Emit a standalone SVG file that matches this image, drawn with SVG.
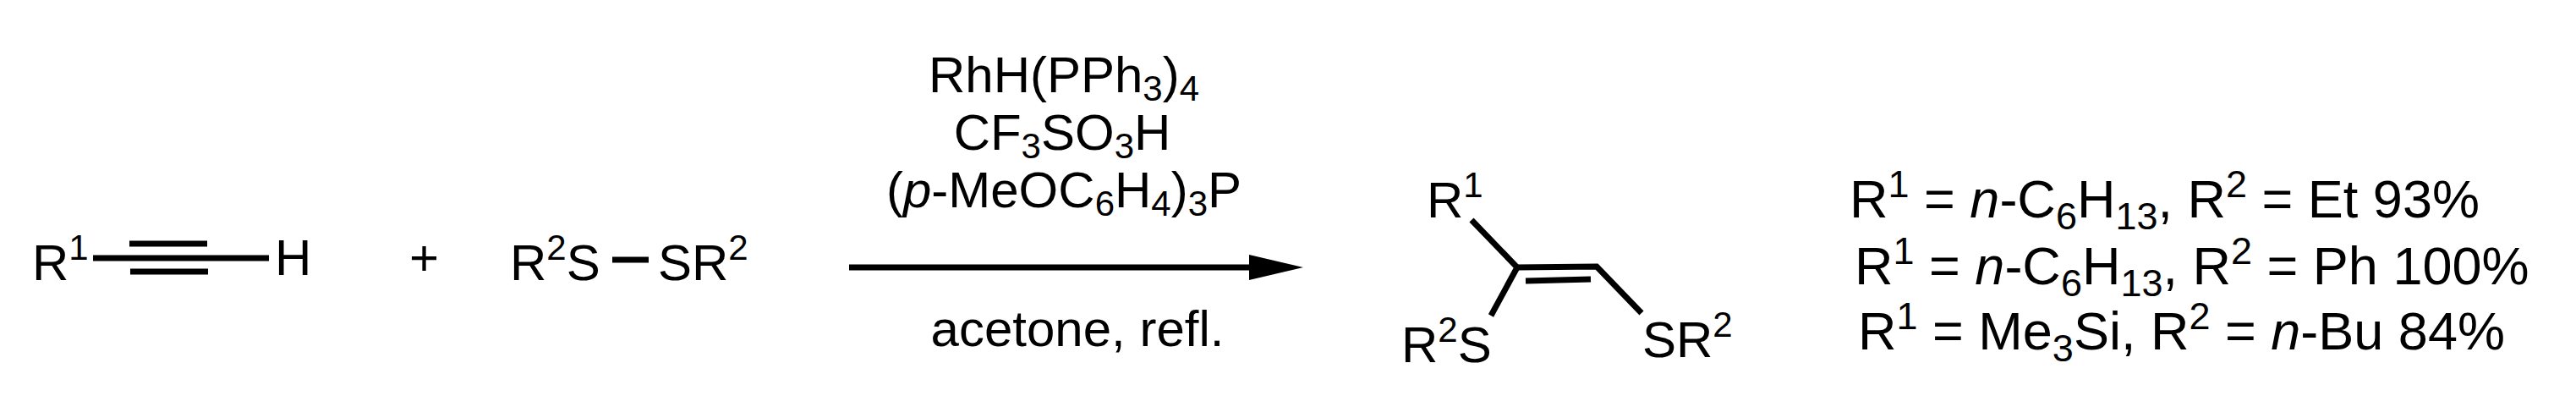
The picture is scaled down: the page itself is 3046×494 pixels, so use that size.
<svg xmlns="http://www.w3.org/2000/svg" width="3046" height="494" viewBox="0 0 3046 494">
<style>
text{font-family:"Liberation Sans",Arial,sans-serif;font-size:60px;fill:#000}
.s{font-size:42px}
.y{font-size:63px}
.y .s{font-size:45px}
.b{stroke:#000;stroke-width:7;fill:none}
</style>
<rect width="3046" height="494" fill="#fff"/>
<g id="alkyne">
<text x="38" y="331">R<tspan class="s" dy="-24">1</tspan></text>
<line class="b" x1="110" y1="305" x2="318" y2="305"/>
<line class="b" x1="153" y1="288" x2="245" y2="288"/>
<line class="b" x1="154" y1="321" x2="246" y2="321"/>
<text x="325" y="325">H</text>
</g>
<g id="plus"><text x="484" y="325">+</text></g>
<g id="disulfide">
<text x="603" y="331">R<tspan class="s" dy="-24">2</tspan><tspan dy="24">S</tspan></text>
<line class="b" x1="724" y1="307" x2="767" y2="307"/>
<text x="778" y="331">S</text><text x="818" y="331">R<tspan class="s" dy="-24">2</tspan></text>
</g>
<g id="conditions" text-anchor="middle">
<text x="1258" y="109">RhH(PPh<tspan class="s" dy="10">3</tspan><tspan dy="-10">)</tspan><tspan class="s" dy="10">4</tspan></text>
<text x="1256" y="177">CF<tspan class="s" dy="10">3</tspan><tspan dy="-10">SO</tspan><tspan class="s" dy="10">3</tspan><tspan dy="-10">H</tspan></text>
<text x="1258" y="245">(<tspan font-style="italic">p</tspan>-MeOC<tspan class="s" dy="10">6</tspan><tspan dy="-10">H</tspan><tspan class="s" dy="10">4</tspan><tspan dy="-10">)</tspan><tspan class="s" dy="10">3</tspan><tspan dy="-10">P</tspan></text>
<text x="1274" y="409">acetone, refl.</text>
</g>
<g id="connectors">
<line x1="1004" y1="316" x2="1480" y2="316" stroke="#000" stroke-width="7"/>
<path d="M1477 301L1541 316L1477 331z"/>
</g>
<g id="product">
<text x="1687" y="257">R<tspan class="s" dy="-24">1</tspan></text>
<polyline class="b" points="1740,260 1794,316 1763,373"/>
<polyline class="b" points="1794,316 1888,315 1941,370"/>
<line class="b" x1="1804" y1="332" x2="1881" y2="330"/>
<text x="1657" y="428">R<tspan class="s" dy="-24">2</tspan><tspan dy="24">S</tspan></text>
<text x="1942" y="422">SR<tspan class="s" dy="-24">2</tspan></text>
</g>
<g id="yields" class="y">
<text class="y" x="2187" y="257">R<tspan class="s" dy="-24">1</tspan><tspan dy="24"> = </tspan><tspan font-style="italic">n</tspan>-C<tspan class="s" dy="14">6</tspan><tspan dy="-14">H</tspan><tspan class="s" dy="14">13</tspan><tspan dy="-14">, R</tspan><tspan class="s" dy="-24">2</tspan><tspan dy="24"> = Et 93%</tspan></text>
<text class="y" x="2193" y="336">R<tspan class="s" dy="-24">1</tspan><tspan dy="24"> = </tspan><tspan font-style="italic">n</tspan>-C<tspan class="s" dy="14">6</tspan><tspan dy="-14">H</tspan><tspan class="s" dy="14">13</tspan><tspan dy="-14">, R</tspan><tspan class="s" dy="-24">2</tspan><tspan dy="24"> = Ph 100%</tspan></text>
<text class="y" x="2197" y="413">R<tspan class="s" dy="-24">1</tspan><tspan dy="24"> = Me</tspan><tspan class="s" dy="14">3</tspan><tspan dy="-14">Si, R</tspan><tspan class="s" dy="-24">2</tspan><tspan dy="24"> = </tspan><tspan font-style="italic">n</tspan>-Bu 84%</text>
</g>
</svg>
